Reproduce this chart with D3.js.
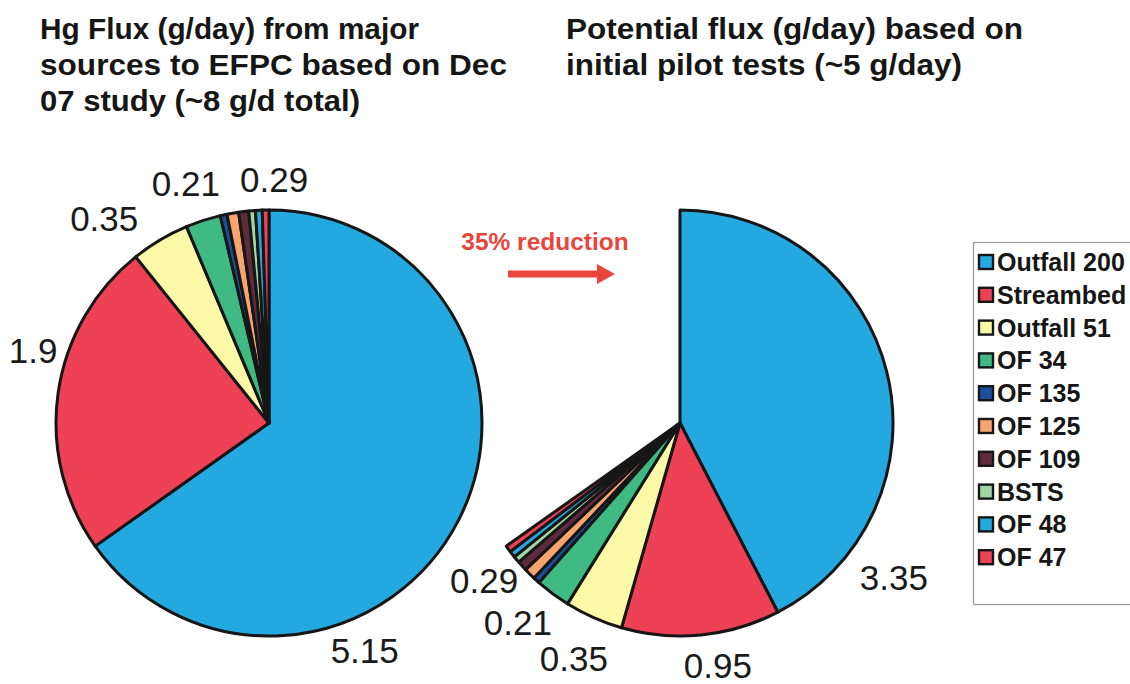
<!DOCTYPE html>
<html>
<head>
<meta charset="utf-8">
<script src="https://cdn.jsdelivr.net/npm/d3@7"></script>
<style>
  html, body { margin: 0; padding: 0; background: #ffffff; }
  svg { display: block; font-family: "Liberation Sans", Arial, Helvetica, sans-serif; }
</style>
</head>
<body>
<svg id="chart" width="1130" height="684"></svg>
<script>
// ---------- data ----------
const categories = ["Outfall 200", "Streambed", "Outfall 51", "OF 34", "OF 135", "OF 125", "OF 109", "BSTS", "OF 48", "OF 47"];
const colors = ["#23a8e0", "#ee4156", "#fbf8a8", "#3fba82", "#1b4f9e", "#f8a46e", "#5e2b3c", "#a2d6a2", "#23a8e0", "#ee4156"];
const currentFlux = [5.15, 1.9, 0.35, 0.21, 0.04, 0.07, 0.06, 0.04, 0.04, 0.04];
const potentialFlux = [3.35, 0.95, 0.35, 0.21, 0.04, 0.07, 0.06, 0.04, 0.04, 0.04];
const currentLabels = ["5.15", "1.9", "0.35", "0.21", "0.29"];
const potentialLabels = ["3.35", "0.95", "0.35", "0.21", "0.29"];
const leftTitle = ["Hg Flux (g/day) from major", "sources to EFPC based on Dec", "07 study (~8 g/d total)"];
const rightTitle = ["Potential flux (g/day) based on", "initial pilot tests (~5 g/day)"];
const annotation = "35% reduction";

// ---------- layout ----------
const svg = d3.select("#chart");
const R = 213;
const leftCenter = [269, 423];
const rightCenter = [680, 423];
// label placement: [angle (deg, clockwise from top), distance from centre]
const leftLabelPos = [[157.2, 247], [287.2, 247], [321.2, 263], [340.9, 254], [1.2, 244]];
const rightLabelPos = [[125.9, 264], [171.1, 245], [204.3, 258], [219.1, 257], [231.3, 251]];
// rendered widths of title lines
const leftTitleWidths = [379, 467, 320];
const rightTitleWidths = [457, 396];

const totalCurrent = d3.sum(currentFlux);
const totalPotential = d3.sum(potentialFlux);

const arc = d3.arc().innerRadius(0).outerRadius(R);

function drawPie(values, center, endFrac, labels, labelPos) {
  const pie = d3.pie().sort(null).value(d => d)
    .startAngle(0).endAngle(2 * Math.PI * endFrac);
  const g = svg.append("g").attr("transform", `translate(${center[0]},${center[1]})`);
  g.selectAll("path").data(pie(values)).join("path")
    .attr("d", arc)
    .attr("fill", (d, i) => colors[i])
    .attr("stroke", "#161616")
    .attr("stroke-width", 3)
    .attr("stroke-linejoin", "round");
  g.selectAll("text").data(labels).join("text")
    .attr("x", (d, i) => labelPos[i][1] * Math.sin(labelPos[i][0] * Math.PI / 180))
    .attr("y", (d, i) => -labelPos[i][1] * Math.cos(labelPos[i][0] * Math.PI / 180))
    .attr("dy", "0.36em")
    .attr("text-anchor", "middle")
    .attr("font-size", 35)
    .attr("fill", "#1a1a1a")
    .text(d => d);
}

drawPie(currentFlux, leftCenter, 1, currentLabels, leftLabelPos);
drawPie(potentialFlux, rightCenter, totalPotential / totalCurrent, potentialLabels, rightLabelPos);

// titles
function drawTitle(lines, widths, x) {
  svg.append("g").selectAll("text").data(lines).join("text")
    .attr("x", x)
    .attr("y", (d, i) => 39 + i * 36)
    .attr("font-size", 30)
    .attr("font-weight", "bold")
    .attr("fill", "#161616")
    .attr("textLength", (d, i) => widths[i])
    .attr("lengthAdjust", "spacingAndGlyphs")
    .text(d => d);
}
drawTitle(leftTitle, leftTitleWidths, 40);
drawTitle(rightTitle, rightTitleWidths, 566);

// annotation
const red = "#e8453d";
svg.append("text").attr("x", 545).attr("y", 250)
  .attr("text-anchor", "middle")
  .attr("font-size", 24.5).attr("font-weight", "bold")
  .attr("fill", red).text(annotation);
svg.append("line").attr("x1", 508).attr("x2", 598).attr("y1", 274).attr("y2", 274)
  .attr("stroke", red).attr("stroke-width", 7);
svg.append("path").attr("d", "M597,264 L615,274 L597,284 Z").attr("fill", red);

// legend
const legend = svg.append("g");
legend.append("rect").attr("x", 973.5).attr("y", 242.5).attr("width", 170).attr("height", 362)
  .attr("fill", "#ffffff").attr("stroke", "#9a9a9a").attr("stroke-width", 1.2);
const items = legend.selectAll("g.item").data(categories).join("g")
  .attr("class", "item")
  .attr("transform", (d, i) => `translate(978,${262 + i * 32.8})`);
items.append("rect").attr("x", 1).attr("y", -7).attr("width", 14).attr("height", 14)
  .attr("fill", (d, i) => colors[i]).attr("stroke", "#161616").attr("stroke-width", 2.4);
items.append("text").attr("x", 19).attr("dy", "0.36em")
  .attr("font-size", 25).attr("font-weight", "bold").attr("fill", "#161616")
  .text(d => d);
</script>
</body>
</html>
